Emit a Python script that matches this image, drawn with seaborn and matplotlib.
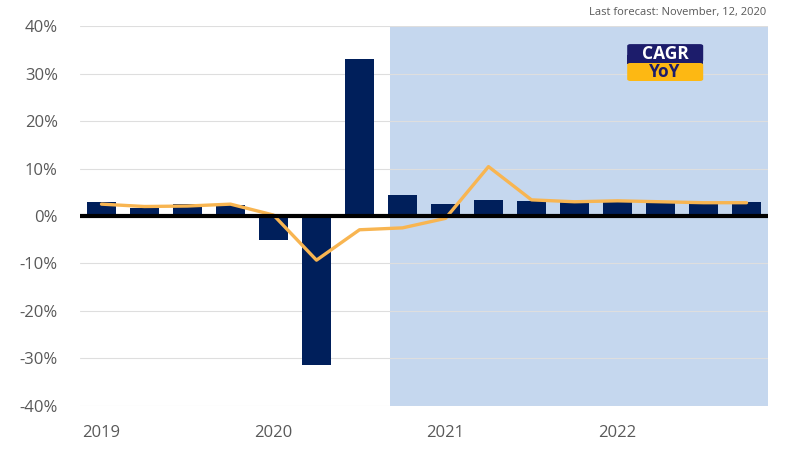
#CAGR vs YoY growth by quarter
import matplotlib
matplotlib.use("Agg")
import matplotlib.pyplot as plt
from matplotlib.patches import FancyBboxPatch
import seaborn as sns
import pandas as pd

#data
quarters = ['2019Q1', '2019Q2', '2019Q3', '2019Q4',
            '2020Q1', '2020Q2', '2020Q3', '2020Q4',
            '2021Q1', '2021Q2', '2021Q3', '2021Q4',
            '2022Q1', '2022Q2', '2022Q3', '2022Q4']
cagr = [3.0, 1.6, 2.5, 2.3, -5.0, -31.4, 33.1, 4.4,
        2.5, 3.4, 3.2, 3.0, 3.0, 2.8, 2.6, 3.0]
yoy = [2.5, 2.0, 2.1, 2.5, 0.2, -9.3, -2.9, -2.5,
       -0.5, 10.4, 3.4, 3.0, 3.2, 3.0, 2.8, 2.8]
year_labels = ['2019', '2020', '2021', '2022']
forecast_start = '2020Q4'

df = pd.DataFrame({'quarter': quarters, 'cagr': cagr, 'yoy': yoy})
df['pos'] = range(len(df))

navy = '#001F5B'
orange = '#F8B551'
shade = '#C5D7EE'
grey = '#595959'

sns.set_theme(style='white')
plt.rcParams['font.family'] = ['Open Sans', 'DejaVu Sans']

fig = plt.figure(figsize=(8, 4.5), dpi=100)
ax = fig.add_axes([0.1, 0.098, 0.86, 0.844])

#forecast shading
fc = df.loc[df['quarter'] == forecast_start, 'pos'].iloc[0]
ax.axvspan(fc - 0.3, len(df) - 0.5, color=shade, zorder=0, lw=0)

sns.barplot(data=df, x='pos', y='cagr', color=navy, width=0.67,
            saturation=1, edgecolor='none', linewidth=0, ax=ax, zorder=2)
sns.lineplot(data=df, x='pos', y='yoy', color=orange, lw=2.4, ax=ax, zorder=3)
ax.axhline(0, color='black', lw=3, zorder=4)

ax.set_xlim(-0.5, len(df) - 0.5)
ax.set_ylim(-40, 40)
ax.set_yticks(range(-40, 41, 10))
ax.set_yticklabels([f'{v}%' for v in range(-40, 41, 10)], color=grey, fontsize=12)
ax.set_xticks([0, 4, 8, 12])
ax.set_xticklabels(year_labels, color=grey, fontsize=12)
ax.tick_params(axis='y', length=0, pad=16)
ax.tick_params(axis='x', length=0, pad=14)
ax.yaxis.grid(True, color='#DEDEDE', lw=0.8, zorder=1)
ax.set_axisbelow(True)
ax.set_xlabel('')
ax.set_ylabel('')
for s in ax.spines.values():
    s.set_visible(False)

#legend boxes
leg_x, leg_w = 0.784, 0.095
fig.patches.append(FancyBboxPatch((leg_x, 0.862), leg_w, 0.04, boxstyle='round,pad=0,rounding_size=0.004',
                                  transform=fig.transFigure, fc='#1C1C6B', ec='none', zorder=5))
fig.patches.append(FancyBboxPatch((leg_x, 0.858), leg_w, 0.02, boxstyle='square,pad=0',
                                  transform=fig.transFigure, fc='#1C1C6B', ec='none', zorder=5))
fig.patches.append(FancyBboxPatch((leg_x, 0.82), leg_w, 0.04, boxstyle='round,pad=0,rounding_size=0.004',
                                  transform=fig.transFigure, fc='#FDB813', ec='none', zorder=5))
fig.text(leg_x + leg_w / 2, 0.881, 'CAGR', color='white', fontsize=12.5, fontweight='bold',
         ha='center', va='center', zorder=6)
fig.text(leg_x + leg_w / 2, 0.839, 'YoY', color='#1C1C6B', fontsize=12.5, fontweight='bold',
         ha='center', va='center', zorder=6)

fig.text(0.958, 0.972, 'Last forecast: November, 12, 2020', color=grey, fontsize=8,
         ha='right', va='center')

fig.savefig('out.png', dpi=100)
